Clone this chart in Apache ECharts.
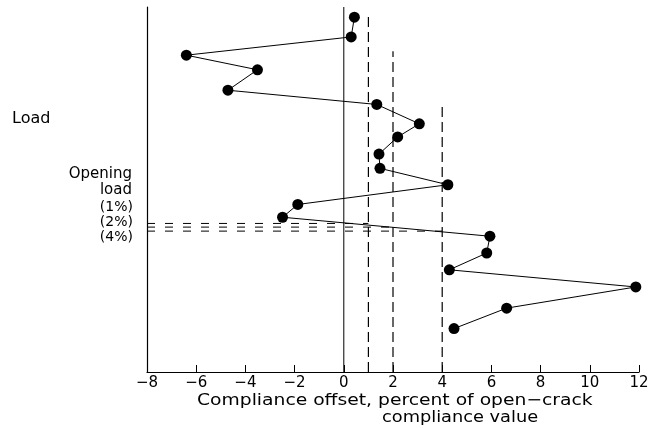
<!DOCTYPE html>
<html>
<head>
<meta charset="utf-8">
<script src="https://cdn.jsdelivr.net/npm/echarts@6/dist/echarts.min.js"></script>
<style>html,body{margin:0;padding:0;background:#fff;}#c{width:655px;height:428px;}</style>
</head>
<body>
<div id="c"></div>
<script>
// Data (load in arbitrary units, 0..100, increasing upward)
var offsetValues = [0.43, 0.30, -6.40, -3.51, -4.71, 1.34, 3.07, 2.19, 1.43, 1.47, 4.23, -1.87, -2.49, 5.94, 5.81, 4.29, 11.87, 6.62, 4.48];
var loadValues   = [97.2, 91.8, 86.8, 82.8, 77.2, 73.3, 68.0, 64.4, 59.7, 55.8, 51.3, 45.9, 42.4, 37.2, 32.6, 28.0, 23.3, 17.5, 11.9];
var criteriaPercents = [1, 2, 4];
var criteriaTopLoads = [98.1, 87.9, 72.8];
var openingLoads = [40.7, 39.7, 38.6];
var xTicks = [-8, -6, -4, -2, 0, 2, 4, 6, 8, 10, 12];
var criteriaLabels = ['(1%)', '(2%)', '(4%)'];

var FONT = 'DejaVu Sans';
var chart = echarts.init(document.getElementById('c'), null, {renderer: 'canvas'});

var series = [];
series.push({
  type: 'line', data: offsetValues.map(function (v, i) { return [v, loadValues[i]]; }),
  symbol: 'circle', symbolSize: 11, itemStyle: {color: '#000'},
  lineStyle: {color: '#000', width: 1}, z: 5, animation: false
});
series.push({
  type: 'line', data: [[0, 0], [0, 100]], symbol: 'none',
  lineStyle: {color: '#000', width: 1}, animation: false
});
criteriaPercents.forEach(function (p, i) {
  series.push({
    type: 'line', data: [[p, 0], [p, criteriaTopLoads[i]]], symbol: 'none',
    lineStyle: {color: '#000', width: 1.2, type: [10, 5]}, animation: false
  });
  series.push({
    type: 'line', data: [[xTicks[0], openingLoads[i]], [p, openingLoads[i]]], symbol: 'none',
    lineStyle: {color: '#000', width: 1, type: [8, 10]}, animation: false
  });
});

var graphic = [
  {type: 'text', left: 12, top: 111, style: {text: 'Load', fill: '#000', font: '16px "' + FONT + '"'}},
  {type: 'text', right: 655 - 132, top: 167, style: {text: 'Opening', fill: '#000', font: '15px "' + FONT + '"', textAlign: 'right'}},
  {type: 'text', right: 655 - 132, top: 183, style: {text: 'load', fill: '#000', font: '15px "' + FONT + '"', textAlign: 'right'}}
];
criteriaLabels.forEach(function (t, i) {
  graphic.push({type: 'text', right: 655 - 133, top: 200 + i * 15, style: {text: t, fill: '#000', font: '14px "' + FONT + '"', textAlign: 'right'}});
});
graphic.push({type: 'text', x: 197, y: 393, scaleX: 1.17, style: {text: 'Compliance offset, percent of open\u2212crack', fill: '#000', font: '16px "' + FONT + '"'}});
graphic.push({type: 'text', x: 382, y: 410, scaleX: 1.11, style: {text: 'compliance value', fill: '#000', font: '16px "' + FONT + '"'}});

chart.setOption({
  backgroundColor: '#fff',
  animation: false,
  grid: {left: 147, right: 16, top: 7, bottom: 56},
  xAxis: {
    type: 'value', min: -8, max: 12, interval: 2,
    axisLine: {show: true, onZero: false, lineStyle: {color: '#000', width: 1.2}},
    axisTick: {show: true, inside: true, length: 7, lineStyle: {color: '#000'}},
    axisLabel: {color: '#000', fontSize: 15, fontFamily: FONT, margin: 4,
      formatter: function (v) { return String(v).replace('-', '\u2212'); }},
    splitLine: {show: false}
  },
  yAxis: {
    type: 'value', min: 0, max: 100,
    axisLine: {show: true, onZero: false, lineStyle: {color: '#000', width: 1.2}},
    axisTick: {show: false}, axisLabel: {show: false}, splitLine: {show: false}
  },
  series: series,
  graphic: graphic
});
</script>
</body>
</html>
